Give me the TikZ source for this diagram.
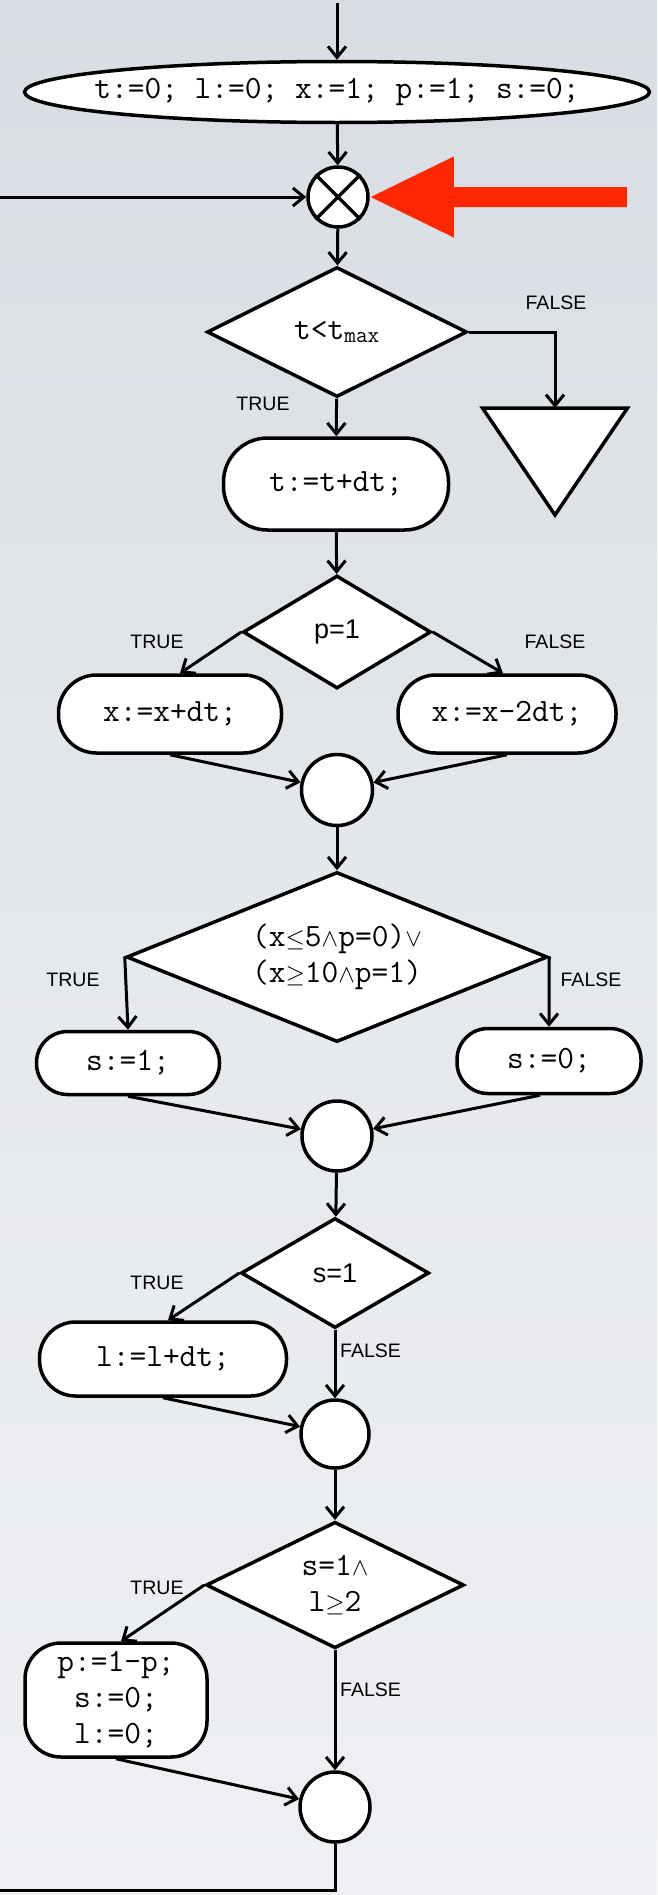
\documentclass[tikz,border=0pt]{standalone}
\usepackage{fontspec}
\newfontfamily\labelfont{Liberation Sans}
\usetikzlibrary{arrows.meta, calc, shapes.geometric}
\definecolor{mybgtop}{RGB}{216, 221, 227}
\definecolor{mybgmid}{RGB}{229, 232, 236}
\definecolor{mybgbot}{RGB}{238, 240, 243}
\definecolor{myred1}{RGB}{255, 38, 0}
\newcommand{\opsym}[1]{{\fontsize{29}{29}\selectfont$#1$}}

\begin{document}
\begin{tikzpicture}[x=1pt, y=-1pt,
    shapeline/.style={line width=3.5pt, draw=black},
    flow/.style={line width=3pt, -{Straight Barb[length=11pt, width=18pt]}},
    mono/.style={font=\ttfamily\fontsize{32.5}{36}\selectfont},
    stepbox/.style={shapeline, fill=white, rectangle, rounded corners=38pt, inner sep=0pt, align=center, mono},
    decision/.style={shapeline, fill=white, diamond, inner sep=0pt, align=center, mono},
    junction/.style={shapeline, fill=white, circle, inner sep=0pt, minimum size=70pt},
    lbl/.style={font=\labelfont\fontsize{19.5}{22}\selectfont, inner sep=1pt},
    cond/.style={font=\labelfont\fontsize{27}{29}\selectfont}]
% Background
\useasboundingbox (0,0) rectangle (657,1895);
\shade[top color=mybgtop, bottom color=mybgbot, middle color=mybgmid] (0,0) rectangle (657,1895);

% Start and loop entry
\coordinate (entry) at (337,3);
\coordinate (loopin) at (-5,197);
\coordinate (loopout) at (-5,1890);
\node[shapeline, fill=white, ellipse, minimum width=625pt, minimum height=61pt, inner sep=0pt, mono]
    (init) at (337,92) {\makebox[0pt]{t:=0; l:=0; x:=1; p:=1; s:=0;}};
\node[junction, minimum size=60pt] (xmerge) at (338,197) {};
\draw[shapeline] (xmerge.north west) -- (xmerge.south east) (xmerge.north east) -- (xmerge.south west);

% Pointer
\fill[myred1] ([xshift=1pt]xmerge.east) -- ++(83,-40.5) -- ++(0,30.5) -- ++(173,0)
    -- ++(0,20) -- ++(-173,0) -- ++(0,30.5) -- cycle;

% Time test
\node[decision, minimum width=260pt, minimum height=130pt, aspect=2] (tcheck) at (337,332) {t<t\textsubscript{max}};
\coordinate (stop) at (555,408);
\draw[shapeline, fill=white] (stop) -- ++(72.5,0) -- ++(-72.5,107) -- ++(-72.5,-107) -- cycle;
\node[stepbox, minimum width=225pt, minimum height=92pt, rounded corners=44pt] (tstep) at (336,484) {t:=t+dt;};

% Position update
\node[decision, cond, minimum width=188pt, minimum height=113pt] (pcheck) at (337,632) {p=1};
\node[stepbox, minimum width=223pt, minimum height=78pt] (xinc) at (170,714) {x:=x+dt;};
\node[stepbox, minimum width=218pt, minimum height=78pt] (xdec) at (507,714) {x:=x-2dt;};
\node[junction, minimum size=71pt] (join1) at (337,790) {};

% Switch test
\node[decision, minimum width=421pt, minimum height=170pt, aspect=2.5] (xcheck) at (337,957)
    {(x\opsym{\le}5\opsym{\wedge}p=0)\opsym{\vee}\\(x\opsym{\ge}10\opsym{\wedge}p=1)};
\node[stepbox, minimum width=183pt, minimum height=63pt, rounded corners=31pt] (sone) at (128,1063) {s:=1;};
\node[stepbox, minimum width=184pt, minimum height=65pt, rounded corners=31pt] (szero) at (549,1061) {s:=0;};
\node[junction] (join2) at (337,1136) {};

% Timer
\node[decision, cond, minimum width=188pt, minimum height=110pt] (scheck) at (335,1273) {s=1};
\node[stepbox, minimum width=247pt, minimum height=74pt, rounded corners=36pt] (linc) at (163,1359) {l:=l+dt;};
\node[junction, minimum size=68pt] (join3) at (335,1434) {};

% Reset test
\node[decision, minimum width=258pt, minimum height=125pt] (lcheck) at (335,1585) {s=1\opsym{\wedge}\\l\opsym{\ge}2};
\node[stepbox, minimum width=182pt, minimum height=114pt, rounded corners=36pt] (reset) at (116,1700) {p:=1-p;\\s:=0;\\l:=0;};
\node[junction] (join4) at (335,1807) {};

% Branch labels
\node[lbl] (f1) at (556,303) {FALSE};
\node[lbl] (t1) at (263,404) {TRUE};
\node[lbl] (t2) at (157,642) {TRUE};
\node[lbl] (f2) at (555,642) {FALSE};
\node[lbl] (t3) at (73,980) {TRUE};
\node[lbl] (f3) at (591,980) {FALSE};
\node[lbl] (t4) at (157,1283) {TRUE};
\node[lbl, anchor=west] (f4) at (339,1351) {FALSE};
\node[lbl] (t5) at (157,1588) {TRUE};
\node[lbl, anchor=west] (f5) at (339,1690) {FALSE};

% Connectors
\draw[flow] (entry) -- (init);
\draw[flow] (init) -- (xmerge);
\draw[flow] (loopin) -- (xmerge);
\draw[flow] (xmerge) -- (tcheck);
\draw[flow] (tcheck.east) -| (stop);
\draw[flow] (tcheck) -- (tstep);
\draw[flow] (tstep) -- (pcheck);
\draw[flow] (pcheck.west) -- ([xshift=10pt]xinc.north);
\draw[flow] (pcheck.east) -- ([xshift=-4pt]xdec.north);
\draw[flow] (xinc.south) -- (join1);
\draw[flow] (xdec.south) -- (join1);
\draw[flow] (join1) -- (xcheck);
\draw[flow] (xcheck.west) -- (sone.north);
\draw[flow] (xcheck.east) -- (szero.north);
\draw[flow] (sone.south) -- (join2);
\draw[flow] ([xshift=-9pt]szero.south) -- (join2);
\draw[flow] (join2) -- (scheck);
\draw[flow] (scheck.west) -- ([xshift=5pt]linc.north);
\draw[flow] (scheck) -- (join3);
\draw[flow] (linc.south) -- (join3);
\draw[flow] (join3) -- (lcheck);
\draw[flow] (lcheck.west) -- ([xshift=5pt]reset.north);
\draw[flow] (lcheck) -- (join4);
\draw[flow] (reset.south) -- (join4);
\draw[line width=3pt] (join4) |- (loopout);
\end{tikzpicture}
\end{document}
